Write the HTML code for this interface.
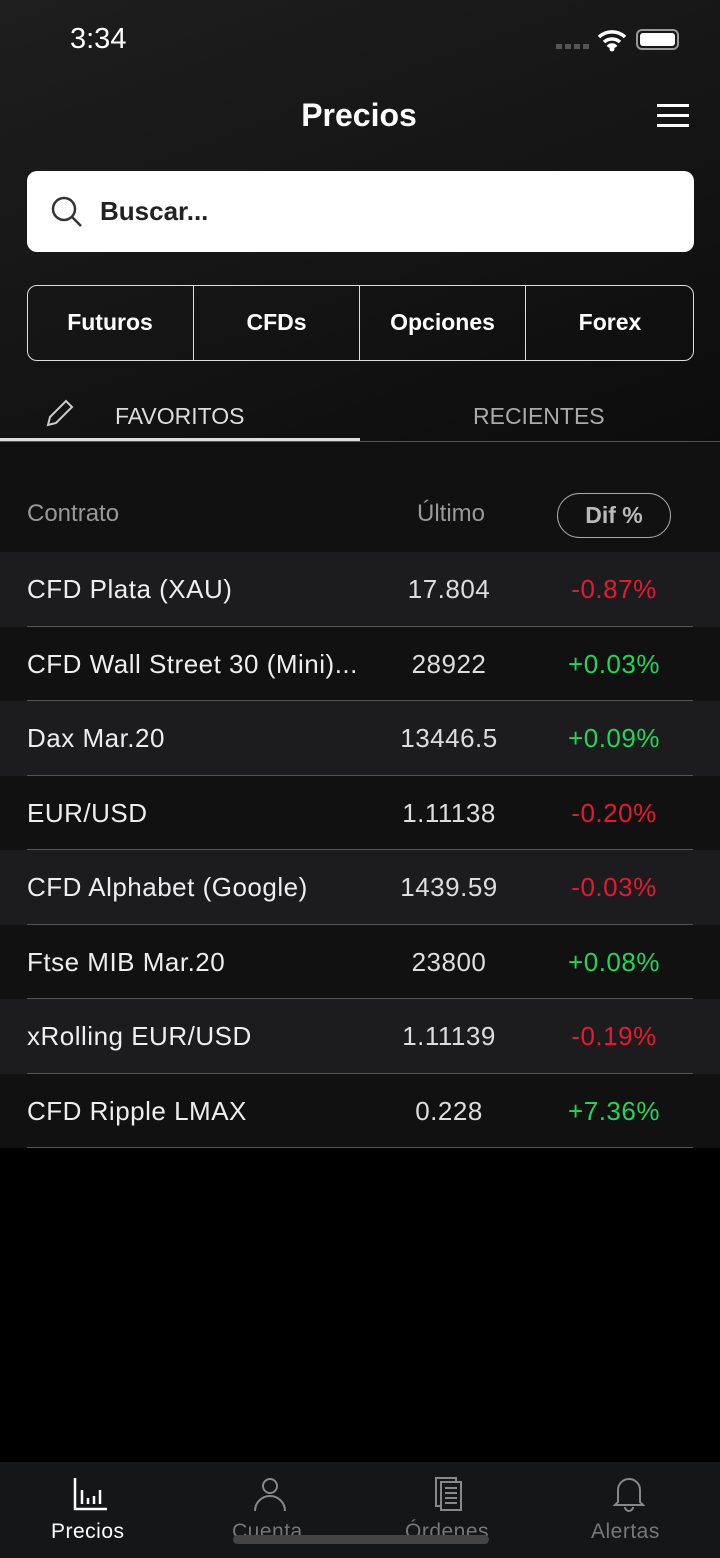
<!DOCTYPE html>
<html><head><meta charset="utf-8"><style>
*{margin:0;padding:0;box-sizing:border-box}
body{width:720px;height:1558px;background:#000;font-family:"Liberation Sans",sans-serif;color:#fff;position:relative;overflow:hidden}
.abs{position:absolute}
#top{left:0;top:0;width:720px;height:455px;background:linear-gradient(160deg,#1e1e1e,#0c0c0c)}
.seg{position:absolute;top:285px;height:75px;display:flex;align-items:center;justify-content:center;font-weight:bold;font-size:23px;border-right:1.5px solid #ddd}
.row{position:absolute;left:0;width:720px;height:74.5px;font-size:26px;letter-spacing:0.5px}
.row .n{position:absolute;left:27px;top:22px;color:#eee}
.row .l{position:absolute;left:449px;top:22px;transform:translateX(-50%);color:#ddd}
.row .d{position:absolute;left:614px;top:22px;transform:translateX(-50%)}
.row .sep{position:absolute;left:27px;right:27px;bottom:0;height:1px;background:#555}
.neg{color:#e8182f}.pos{color:#1fd65a}
</style></head><body>
<div id="top" class="abs"></div>
<div class="abs" style="left:70px;top:23px;font-size:29px">3:34</div>
<div class="abs" style="left:556px;top:44px;width:33px;height:5px;background:repeating-linear-gradient(90deg,#555 0 6px,transparent 6px 9px)"></div>
<svg class="abs" style="left:597px;top:28px" width="30" height="24"><path d="M2 9a19 19 0 0 1 26 0M7 14a12 12 0 0 1 16 0M11 19a5 5 0 0 1 8 0" stroke="#fff" stroke-width="3.5" fill="none"/><circle cx="15" cy="21" r="2.5" fill="#fff"/></svg>
<div class="abs" style="left:636px;top:29px;width:43px;height:21px;border:2px solid #999;border-radius:6px;padding:2px"><div style="background:#fff;width:100%;height:100%;border-radius:3px"></div></div>
<div class="abs" style="left:0;width:718px;top:97px;text-align:center;font-weight:bold;font-size:32px">Precios</div>
<div class="abs" style="left:657px;top:104px;width:32px;height:23px;border-top:3px solid #fff;border-bottom:3px solid #fff"><div style="margin-top:7px;height:3px;background:#fff"></div></div>
<div class="abs" style="left:27px;top:171px;width:667px;height:81px;background:#fff;border-radius:10px">
<svg class="abs" style="left:24px;top:25px" width="32" height="32"><circle cx="13" cy="13" r="11" stroke="#333" stroke-width="2.5" fill="none"/><path d="M21 21l9 9" stroke="#333" stroke-width="2.5"/></svg>
<div class="abs" style="left:73px;top:25px;color:#222;font-size:26px;font-weight:bold">Buscar...</div></div>
<div class="abs" style="left:27px;top:285px;width:667px;height:76px;border:1.5px solid #ddd;border-radius:10px"></div>
<div class="seg" style="left:27px;width:167px">Futuros</div>
<div class="seg" style="left:194px;width:166px">CFDs</div>
<div class="seg" style="left:360px;width:166px">Opciones</div>
<div class="seg" style="left:526px;width:168px;border-right:none">Forex</div>
<svg class="abs" style="left:44px;top:397px" width="32" height="32"><path d="M4 28l2-8L22 4l6 6-16 16z" stroke="#ccc" stroke-width="2" fill="none"/></svg>
<div class="abs" style="left:115px;top:403px;font-size:23px;color:#ddd">FAVORITOS</div>
<div class="abs" style="left:473px;top:403px;font-size:23px;color:#aaa">RECIENTES</div>
<div class="abs" style="left:0;top:441px;width:720px;height:1px;background:#555"></div>
<div class="abs" style="left:0;top:438px;width:360px;height:3px;background:#ddd"></div>
<div class="abs" style="left:0;top:442px;width:720px;height:110px;background:#111"></div>
<div class="abs" style="left:27px;top:500px;font-size:24px;color:#999">Contrato</div>
<div class="abs" style="left:417px;top:500px;font-size:24px;color:#999">Último</div>
<div class="abs" style="left:557px;top:493px;width:114px;height:45px;border:1.5px solid #aaa;border-radius:23px;text-align:center;line-height:43px;font-size:23px;font-weight:bold;color:#bbb">Dif %</div>
<div id="rows"></div>
<div class="abs" style="left:0;top:1462px;width:720px;height:96px;background:#151618"></div>
<svg class="abs" style="left:72px;top:1476px" width="36" height="36"><path d="M3 2v31h32" stroke="#fff" stroke-width="2.5" fill="none"/><path d="M10 14v14M16 22v6M22 20v8M28 14v14" stroke="#fff" stroke-width="2.5"/></svg>
<div class="abs" style="left:51px;top:1520px;font-size:21px;color:#fff;letter-spacing:0.5px">Precios</div>
<svg class="abs" style="left:252px;top:1476px" width="36" height="36"><circle cx="18" cy="10" r="7" stroke="#888" stroke-width="2" fill="none"/><path d="M3 35a15 15 0 0 1 30 0" stroke="#888" stroke-width="2" fill="none"/></svg>
<div class="abs" style="left:232px;top:1520px;font-size:21px;color:#777;letter-spacing:0.5px">Cuenta</div>
<svg class="abs" style="left:434px;top:1476px" width="32" height="36"><rect x="2" y="2" width="20" height="28" stroke="#888" stroke-width="2" fill="none"/><rect x="7" y="6" width="20" height="28" stroke="#888" stroke-width="2" fill="#151618"/><path d="M11 12h12M11 17h12M11 22h12M11 27h12" stroke="#888" stroke-width="2"/></svg>
<div class="abs" style="left:405px;top:1520px;font-size:21px;color:#777;letter-spacing:0.5px">Órdenes</div>
<svg class="abs" style="left:612px;top:1476px" width="34" height="36"><path d="M6 26V14a11 11 0 0 1 22 0v12l3 3H3z" stroke="#888" stroke-width="2" fill="none"/><path d="M13 31a4 4 0 0 0 8 0" stroke="#888" stroke-width="2" fill="none"/></svg>
<div class="abs" style="left:591px;top:1520px;font-size:21px;color:#777;letter-spacing:0.5px">Alertas</div>
<div class="abs" style="left:233px;top:1535px;width:256px;height:9px;background:#444;border-radius:5px"></div>
<script>
const names=["CFD Plata (XAU)","CFD Wall Street 30 (Mini)...","Dax Mar.20","EUR/USD","CFD Alphabet (Google)","Ftse MIB Mar.20","xRolling EUR/USD","CFD Ripple LMAX"];
const lasts=["17.804","28922","13446.5","1.11138","1439.59","23800","1.11139","0.228"];
const diffs=[-0.87,0.03,0.09,-0.20,-0.03,0.08,-0.19,7.36];
const c=document.getElementById('rows');
names.forEach((n,i)=>{
const r=document.createElement('div');


r.className='row';
r.style.top=(552+i*74.5)+'px';
r.style.background=i%2===0?'#1c1c1e':'#111';
const d=diffs[i];
r.innerHTML='<span class="n">'+n+'</span><span class="l">'+lasts[i]+'</span><span class="d '+(d<0?'neg':'pos')+'">'+(d<0?'-':'+')+Math.abs(d).toFixed(2)+'%</span><div class="sep"></div>';
c.appendChild(r);
});
</script>
</body></html>
